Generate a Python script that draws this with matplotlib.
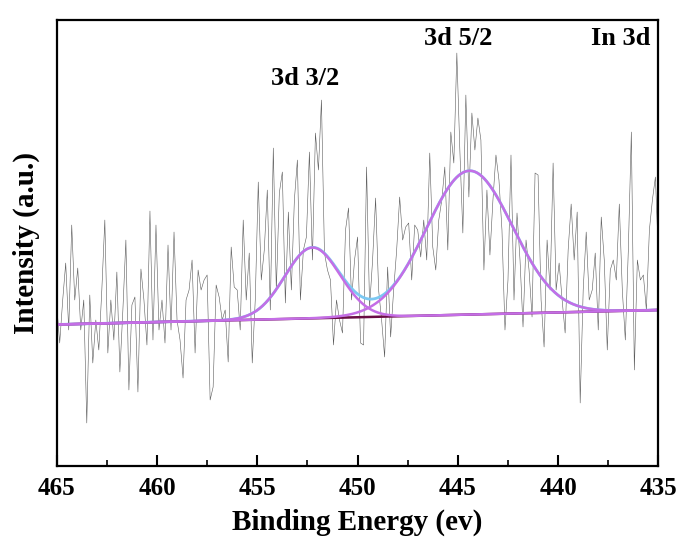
import numpy as np
import matplotlib
matplotlib.use("Agg")
from matplotlib import pyplot as plt
from matplotlib.ticker import MultipleLocator

plt.rcParams['font.family'] = ['Liberation Serif', 'DejaVu Serif']
plt.rcParams['font.weight'] = 'bold'

# raw In 3d spectrum, 465 -> 435 eV (arbitrary intensity units)
raw_intensity = [
    161, 123, 166, 203, 136, 241, 166, 198, 136, 166,
    43, 171, 103, 146, 116, 176, 246, 113, 166, 126,
    194, 94, 156, 226, 76, 161, 169, 74, 197, 166,
    121, 255, 126, 241, 136, 166, 123, 221, 136, 234,
    146, 126, 88, 166, 176, 206, 113, 196, 176, 186,
    191, 66, 79, 181, 169, 146, 156, 104, 219, 179,
    176, 136, 246, 166, 213, 103, 166, 284, 186, 216,
    276, 156, 318, 176, 273, 294, 163, 254, 176, 266,
    306, 166, 216, 229, 314, 206, 333, 296, 366, 213,
    196, 186, 121, 166, 146, 133, 236, 258, 166, 206,
    229, 123, 121, 299, 159, 206, 268, 176, 146, 109,
    199, 129, 176, 216, 269, 226, 239, 243, 186, 241,
    236, 209, 246, 206, 313, 219, 196, 246, 266, 299,
    216, 334, 303, 413, 316, 233, 371, 269, 353, 316,
    348, 326, 196, 276, 211, 266, 311, 286, 236, 136,
    186, 311, 166, 253, 206, 139, 226, 196, 149, 293,
    291, 166, 119, 226, 176, 303, 176, 203, 166, 133,
    216, 262, 206, 254, 63, 176, 234, 166, 176, 213,
    136, 249, 206, 116, 196, 206, 186, 262, 176, 126,
    216, 334, 96, 206, 186, 191, 156, 236, 266, 289,
    210,
]
energy_range = [465, 435]

# linear background end values and fitted Gaussian components
baseline_ends = [141.5, 156.0]
peak_names = ["3d 3/2", "3d 5/2"]
peak_centers = [452.25, 444.42]
peak_heights = [70.8, 143.8]
peak_fwhm = [3.23, 5.05]

energy = np.linspace(energy_range[0], energy_range[1], len(raw_intensity))
fine_e = np.linspace(energy_range[0], energy_range[1], 600)
background = np.interp(fine_e, energy_range[::-1], baseline_ends[::-1])

components = []
for c, h, w in zip(peak_centers, peak_heights, peak_fwhm):
    sigma = w / 2.3548
    components.append(h * np.exp(-(fine_e - c) ** 2 / (2 * sigma ** 2)))
envelope = background + sum(components)

fig = plt.figure(figsize=(6.83, 5.44), dpi=100)
ax = fig.add_axes([0.083, 0.1434, 0.881, 0.8198])

ax.plot(energy, raw_intensity, color="#5a5a5a", lw=0.4)
ax.plot(fine_e, envelope, color="#7cc8f2", lw=2.0)
ax.plot(energy_range, baseline_ends, color="#6a0d45", lw=1.8)
for comp in components:
    ax.plot(fine_e, background + comp, color="#c46ee6", lw=1.8)

ax.set_xlim(465, 435)
ax.set_ylim(0, 446)
ax.set_yticks([])
ax.xaxis.set_major_locator(MultipleLocator(5))
ax.xaxis.set_minor_locator(MultipleLocator(2.5))
ax.tick_params(axis="x", which="major", direction="in", length=8, width=1.5,
               labelsize=18, pad=8)
ax.tick_params(axis="x", which="minor", direction="in", length=4, width=1.2)
for lbl in ax.get_xticklabels():
    lbl.set_fontweight("bold")
for sp in ax.spines.values():
    sp.set_linewidth(1.6)

ax.set_xlabel("Binding Energy (ev)", fontsize=21, fontweight="bold", labelpad=6)
ax.set_ylabel("Intensity (a.u.)", fontsize=21, fontweight="bold", labelpad=12)

ax.text(452.6, 388, "3d 3/2", fontsize=19, fontweight="bold", ha="center", va="center")
ax.text(445.0, 428, "3d 5/2", fontsize=19, fontweight="bold", ha="center", va="center")
ax.text(436.9, 428, "In 3d", fontsize=19, fontweight="bold", ha="center", va="center")

fig.savefig("out.png", dpi=100)
